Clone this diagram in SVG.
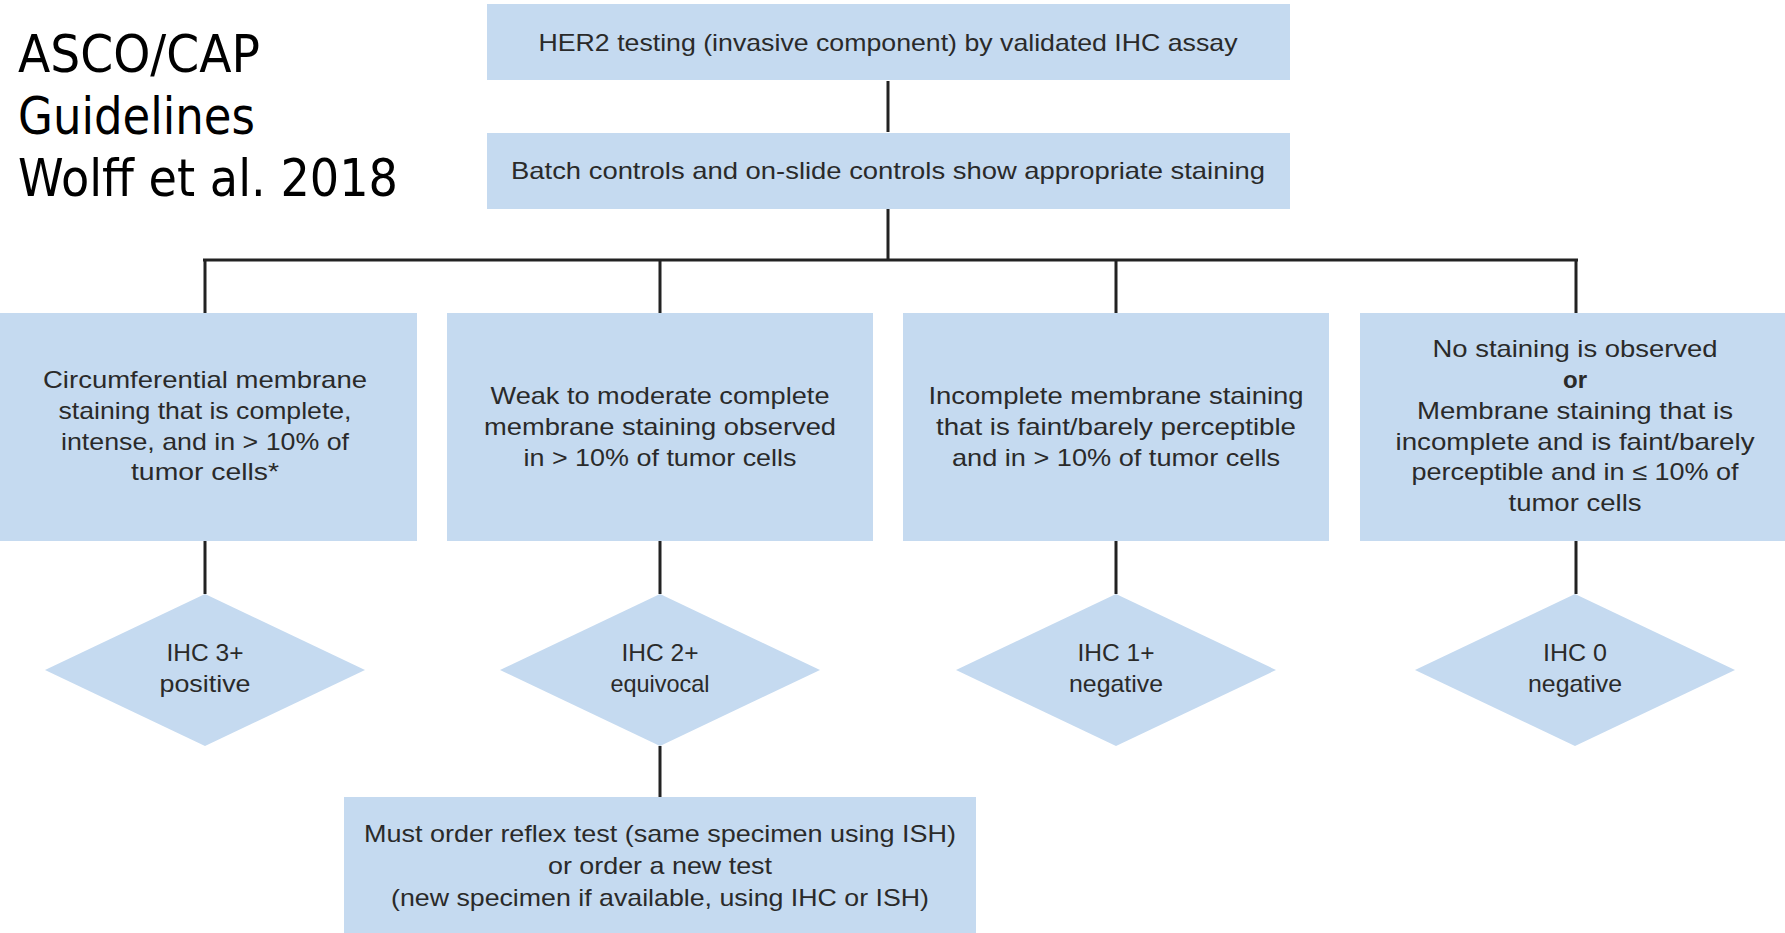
<svg xmlns="http://www.w3.org/2000/svg" width="1785" height="933" viewBox="0 0 1785 933">
<style>
.box{fill:#c5daf0}
.t{font-family:"Liberation Sans",Arial,sans-serif;font-size:24px;fill:#2a2a2a;text-anchor:middle}
.title{font-family:"DejaVu Sans","Liberation Sans",sans-serif;font-size:51px;fill:#000}
.c{stroke:#222;stroke-width:3;fill:none}
</style>
<rect width="1785" height="933" fill="#fff"/>
<g id="title">
<text class="title" x="18" y="72" textLength="242" lengthAdjust="spacingAndGlyphs">ASCO/CAP</text>
<text class="title" x="18" y="134" textLength="237" lengthAdjust="spacingAndGlyphs">Guidelines</text>
<text class="title" x="18" y="196" textLength="380" lengthAdjust="spacingAndGlyphs">Wolff et al. 2018</text>
</g>
<g id="connectors">
<path class="c" d="M888 81V132M888 209V260M203 260H1578M205 260V313M660 260V313M1116 260V313M1576 260V313"/>
<path class="c" d="M205 541V594M660 541V594M1116 541V594M1576 541V594M660 746V797"/>
</g>
<g id="n1">
<rect class="box" x="487" y="4" width="803" height="76"/>
<text class="t" x="888" y="51" textLength="699" lengthAdjust="spacingAndGlyphs">HER2 testing (invasive component) by validated IHC assay</text>
</g>
<g id="n2">
<rect class="box" x="487" y="133" width="803" height="76"/>
<text class="t" x="888" y="179" textLength="754" lengthAdjust="spacingAndGlyphs">Batch controls and on-slide controls show appropriate staining</text>
</g>
<g id="nA">
<rect class="box" x="0" y="313" width="417" height="228"/>
<text class="t" x="205" y="388" textLength="324" lengthAdjust="spacingAndGlyphs">Circumferential membrane</text>
<text class="t" x="205" y="419" textLength="293" lengthAdjust="spacingAndGlyphs">staining that is complete,</text>
<text class="t" x="205" y="450" textLength="288" lengthAdjust="spacingAndGlyphs">intense, and in &gt; 10% of</text>
<text class="t" x="205" y="480" textLength="148" lengthAdjust="spacingAndGlyphs">tumor cells*</text>
</g>
<g id="nB">
<rect class="box" x="447" y="313" width="426" height="228"/>
<text class="t" x="660" y="404" textLength="339" lengthAdjust="spacingAndGlyphs">Weak to moderate complete</text>
<text class="t" x="660" y="435" textLength="352" lengthAdjust="spacingAndGlyphs">membrane staining observed</text>
<text class="t" x="660" y="466" textLength="273" lengthAdjust="spacingAndGlyphs">in &gt; 10% of tumor cells</text>
</g>
<g id="nC">
<rect class="box" x="903" y="313" width="426" height="228"/>
<text class="t" x="1116" y="404" textLength="375" lengthAdjust="spacingAndGlyphs">Incomplete membrane staining</text>
<text class="t" x="1116" y="435" textLength="360" lengthAdjust="spacingAndGlyphs">that is faint/barely perceptible</text>
<text class="t" x="1116" y="466" textLength="328" lengthAdjust="spacingAndGlyphs">and in &gt; 10% of tumor cells</text>
</g>
<g id="nD">
<rect class="box" x="1360" y="313" width="425" height="228"/>
<text class="t" x="1575" y="357" textLength="285" lengthAdjust="spacingAndGlyphs">No staining is observed</text>
<text class="t" x="1575" y="388" font-weight="bold">or</text>
<text class="t" x="1575" y="419" textLength="316" lengthAdjust="spacingAndGlyphs">Membrane staining that is</text>
<text class="t" x="1575" y="450" textLength="359" lengthAdjust="spacingAndGlyphs">incomplete and is faint/barely</text>
<text class="t" x="1575" y="480" textLength="327" lengthAdjust="spacingAndGlyphs">perceptible and in ≤ 10% of</text>
<text class="t" x="1575" y="511" textLength="133" lengthAdjust="spacingAndGlyphs">tumor cells</text>
</g>
<g id="dA">
<polygon class="box" points="205,594 365,670 205,746 45,670"/>
<text class="t" x="205" y="661" textLength="77" lengthAdjust="spacingAndGlyphs">IHC 3+</text>
<text class="t" x="205" y="692" textLength="91" lengthAdjust="spacingAndGlyphs">positive</text>
</g>
<g id="dB">
<polygon class="box" points="660,594 820,670 660,746 500,670"/>
<text class="t" x="660" y="661" textLength="77" lengthAdjust="spacingAndGlyphs">IHC 2+</text>
<text class="t" x="660" y="692" textLength="99" lengthAdjust="spacingAndGlyphs">equivocal</text>
</g>
<g id="dC">
<polygon class="box" points="1116,594 1276,670 1116,746 956,670"/>
<text class="t" x="1116" y="661" textLength="77" lengthAdjust="spacingAndGlyphs">IHC 1+</text>
<text class="t" x="1116" y="692" textLength="94" lengthAdjust="spacingAndGlyphs">negative</text>
</g>
<g id="dD">
<polygon class="box" points="1575,594 1735,670 1575,746 1415,670"/>
<text class="t" x="1575" y="661" textLength="64" lengthAdjust="spacingAndGlyphs">IHC 0</text>
<text class="t" x="1575" y="692" textLength="94" lengthAdjust="spacingAndGlyphs">negative</text>
</g>
<g id="nE">
<rect class="box" x="344" y="797" width="632" height="136"/>
<text class="t" x="660" y="842" textLength="592" lengthAdjust="spacingAndGlyphs">Must order reflex test (same specimen using ISH)</text>
<text class="t" x="660" y="874" textLength="224" lengthAdjust="spacingAndGlyphs">or order a new test</text>
<text class="t" x="660" y="906" textLength="538" lengthAdjust="spacingAndGlyphs">(new specimen if available, using IHC or ISH)</text>
</g>
</svg>
